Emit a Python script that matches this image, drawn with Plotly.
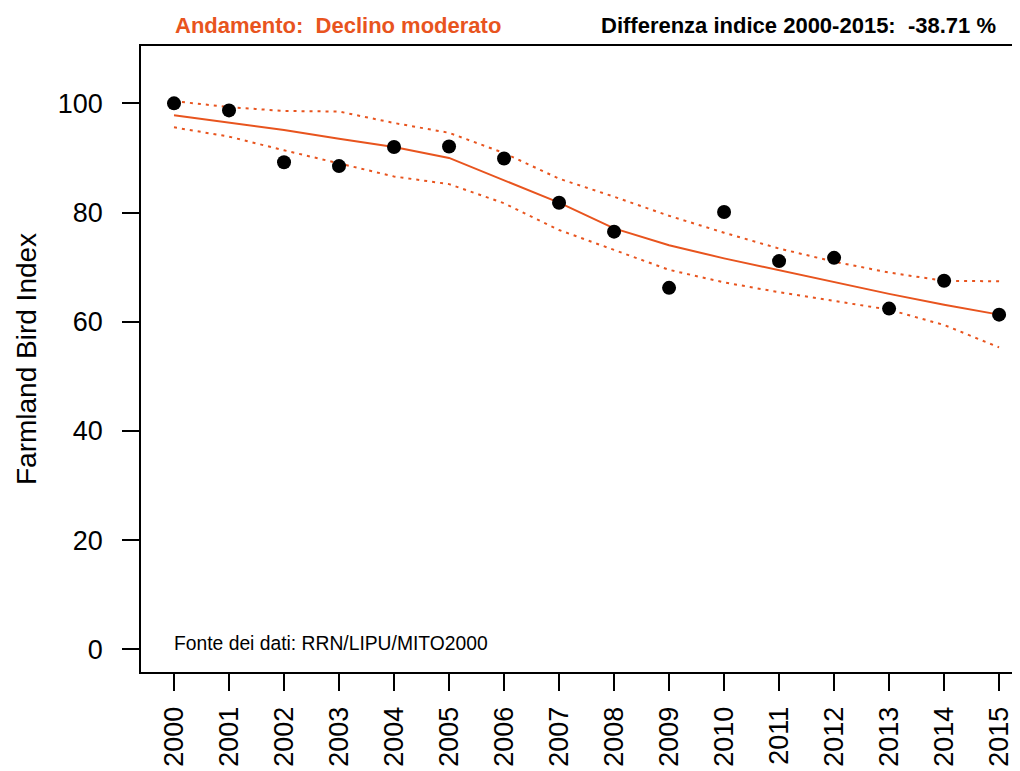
import plotly.graph_objects as go

years = list(range(2000, 2016))
index_values = [100, 98.7, 89.2, 88.5, 92.0, 92.1, 89.9, 81.8, 76.5, 66.2, 80.1, 71.1, 71.7, 62.4, 67.5, 61.29]
trend = [97.8, 96.4, 95.1, 93.5, 92.0, 90.0, 85.9, 81.8, 77.1, 74.0, 71.6, 69.4, 67.2, 65.1, 63.1, 61.3]
upper = [100.4, 99.3, 98.6, 98.5, 96.4, 94.6, 90.9, 86.2, 82.9, 79.4, 76.3, 73.4, 71.0, 69.0, 67.5, 67.4]
lower = [95.6, 93.9, 91.4, 89.0, 86.6, 85.2, 81.7, 76.8, 73.1, 69.5, 67.2, 65.4, 63.8, 62.2, 59.4, 55.3]
y_ticks = [0, 20, 40, 60, 80, 100]

ORANGE = "#E8541E"
FONT = "Liberation Sans, Arial, sans-serif"

fig = go.Figure()
for band in (upper, lower):
    fig.add_trace(go.Scatter(x=years, y=band, mode="lines",
                             line=dict(color=ORANGE, width=2, dash="3px,5px"),
                             hoverinfo="skip"))
fig.add_trace(go.Scatter(x=years, y=trend, mode="lines",
                         line=dict(color=ORANGE, width=2)))
fig.add_trace(go.Scatter(x=years, y=index_values, mode="markers",
                         marker=dict(color="black", size=14)))

# page body has an 8px margin; work in window pixels and shift
OFF = 8
W, H = 1020 - OFF, 771 - OFF
L = 141 - OFF
T = 46 - OFF
BOTTOM = 672 - OFF
B = H - BOTTOM
pw = W - L
ph = H - T - B

def px_x(px):
    return (px - OFF - L) / pw

def px_y(py):
    return (BOTTOM - (py - OFF)) / ph

fig.update_layout(
    width=W, height=H,
    margin=dict(l=L, r=0, t=T, b=B, autoexpand=False),
    paper_bgcolor="white", plot_bgcolor="white",
    showlegend=False,
    font=dict(family=FONT, color="black"),
    xaxis=dict(range=[1999.4, 2015.38], tickvals=years, ticktext=[str(y) for y in years],
               tickangle=-90, ticks="outside", ticklen=17, tickwidth=1.5, tickcolor="black",
               ticklabelstandoff=5, automargin=False,
               showline=True, linecolor="black", linewidth=1.8, mirror=True,
               showgrid=False, zeroline=False, tickfont=dict(size=27, family=FONT, color="black")),
    yaxis=dict(range=[-4.16, 110.5], tickvals=y_ticks, ticks="outside", ticklen=17,
               tickwidth=1.5, tickcolor="black", ticklabelstandoff=14, automargin=False,
               showline=True, linecolor="black", linewidth=1.8, mirror=False,
               showgrid=False, zeroline=False, tickfont=dict(size=27, family=FONT, color="black")),
    annotations=[
        dict(text="Farmland Bird Index", textangle=-90, xref="paper", yref="paper",
             x=px_x(26), y=0.5, xanchor="center", yanchor="middle", showarrow=False,
             font=dict(size=28, family=FONT, color="black")),
        dict(text="<b>Andamento:  Declino moderato</b>", xref="paper", yref="paper",
             x=px_x(173), y=px_y(25), xanchor="left", yanchor="middle", showarrow=False,
             font=dict(size=22, family=FONT, color=ORANGE)),
        dict(text="<b>Differenza indice 2000-2015:  -38.71 %</b>", xref="paper", yref="paper",
             x=px_x(998), y=px_y(25), xanchor="right", yanchor="middle", showarrow=False,
             font=dict(size=22, family=FONT, color="black")),
        dict(text="Fonte dei dati: RRN/LIPU/MITO2000", xref="paper", yref="paper",
             x=px_x(172), y=px_y(643), xanchor="left", yanchor="middle", showarrow=False,
             font=dict(size=19.3, family=FONT, color="black")),
    ],
)

fig.write_html("out.html")
